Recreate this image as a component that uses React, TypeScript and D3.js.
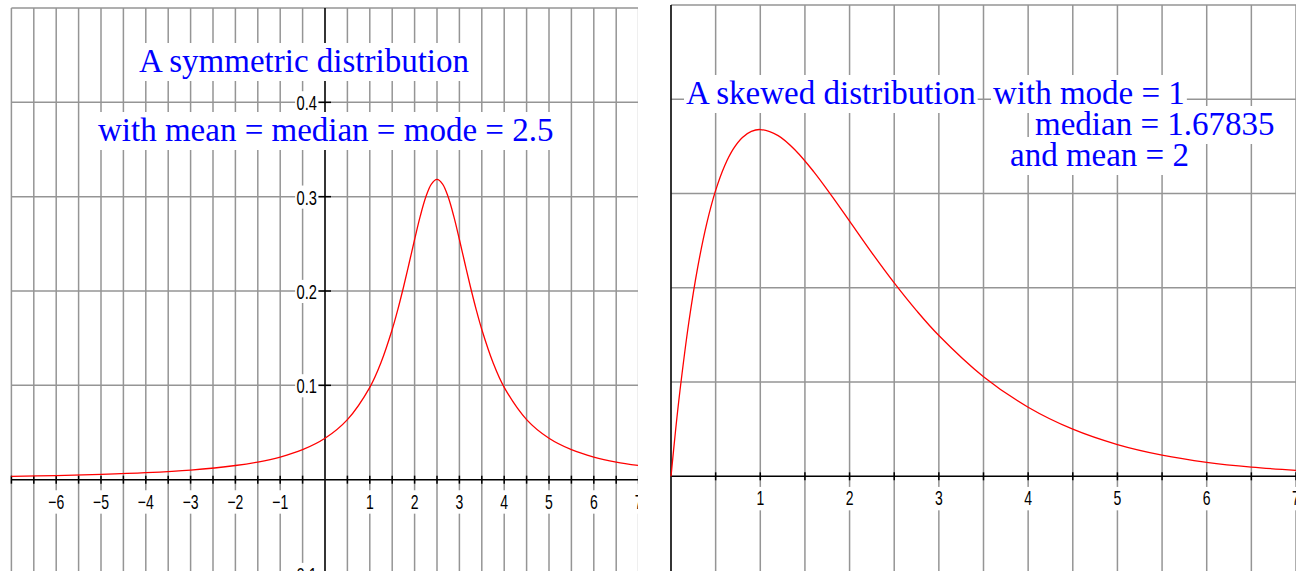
import React, { useEffect, useRef } from 'react';
import * as d3 from 'd3';

// Symmetric distribution
const symX = [-7, -6, -5, -4, -3, -2, -1.5, -1, -0.5, 0, 0.5, 1, 1.25, 1.5, 1.625, 1.75, 1.875, 2, 2.125, 2.25, 2.375, 2.5, 2.625, 2.75, 2.875, 3, 3.125, 3.25, 3.375, 3.5, 3.75, 4, 4.5, 5, 5.5, 6, 6.5, 7];
const symY = [0.0035, 0.0043, 0.0056, 0.0074, 0.0102, 0.015, 0.0187, 0.024, 0.0318, 0.0439, 0.0637, 0.0979, 0.1242, 0.1592, 0.1803, 0.2037, 0.2289, 0.2546, 0.2791, 0.2996, 0.3134, 0.3183, 0.3134, 0.2996, 0.2791, 0.2546, 0.2289, 0.2037, 0.1803, 0.1592, 0.1242, 0.0979, 0.0637, 0.0439, 0.0318, 0.024, 0.0187, 0.015];

// Skewed distribution
const skewX = [0, 0.05, 0.1, 0.2, 0.3, 0.4, 0.5, 0.6, 0.7, 0.8, 0.9, 1, 1.2, 1.4, 1.6, 1.8, 2, 2.25, 2.5, 2.75, 3, 3.5, 4, 4.5, 5, 5.5, 6, 6.5, 7];
const skewY = [0, 0.0476, 0.0905, 0.1637, 0.2222, 0.2681, 0.3033, 0.3293, 0.3476, 0.3595, 0.3659, 0.3679, 0.3614, 0.3452, 0.323, 0.2975, 0.2707, 0.2371, 0.2052, 0.1758, 0.1494, 0.1057, 0.0733, 0.05, 0.0337, 0.0225, 0.0149, 0.0098, 0.0064];

const leftXTicks = [-6, -5, -4, -3, -2, -1, 1, 2, 3, 4, 5, 6, 7];
const leftYTicks = [-0.1, 0.1, 0.2, 0.3, 0.4];
const rightXTicks = [1, 2, 3, 4, 5, 6, 7];
const gridYValues = [0.1, 0.2, 0.3, 0.4, 0.5];

const leftTitles = ['A symmetric distribution', 'with mean = median = mode = 2.5'];
const rightTitles = ['A skewed distribution', 'with mode = 1', 'median = 1.67835', 'and mean = 2'];

const GRID = '#959595';
const TICKFONT = '"Liberation Sans", Arial, sans-serif';
const TITLEFONT = '"Liberation Serif", "Times New Roman", serif';

function fmt(v: number) {
  const s = String(v);
  return s.replace('-', '\u2212');
}

export default function App() {
  const ref = useRef<SVGSVGElement>(null);

  useEffect(() => {
    const svg = d3.select(ref.current);
    svg.selectAll('*').remove();
    svg.append('rect').attr('width', 1301).attr('height', 571).attr('fill', '#fff');
    const defs = svg.append('defs');

    function labelBox(g: any, text: string, anchor: string, size: number, padX: number, padTop: number, padBot: number) {
      const rect = g.append('rect').attr('fill', '#fff');
      const t = g.append('text')
        .attr('font-family', TICKFONT)
        .attr('font-size', size)
        .attr('text-anchor', anchor)
        .attr('fill', '#000')
        .text(text);
      const bb = (t.node() as SVGTextElement).getBBox();
      rect.attr('x', bb.x - padX).attr('y', -size * 0.72 - padTop)
        .attr('width', bb.width + padX * 2).attr('height', size * 0.72 + padTop + padBot);
    }

    function titleBox(g: any, text: string, x: number, y: number) {
      const rect = g.append('rect').attr('fill', '#fff');
      const t = g.append('text')
        .attr('x', x).attr('y', y)
        .attr('font-family', TITLEFONT)
        .attr('font-size', 33)
        .attr('fill', '#0000ff')
        .text(text);
      const bb = (t.node() as SVGTextElement).getBBox();
      rect.attr('x', bb.x - 2).attr('y', y - 29).attr('width', bb.width + 4).attr('height', 38);
    }

    function panel(opts: any) {
      const { id, x, y, clipX0, clipX1, clipY0, xGrid, xTicks, yTicks, titles, titlePos, yTop } = opts;
      defs.append('clipPath').attr('id', id).append('rect')
        .attr('x', clipX0).attr('y', clipY0).attr('width', clipX1 - clipX0).attr('height', 571 - clipY0);
      const g = svg.append('g').attr('clip-path', `url(#${id})`);
      const [xr0, xr1] = x.range();
      const x0 = x(0);
      const y0 = y(0);

      // grid
      g.append('g').selectAll('line').data(xGrid).join('line')
        .attr('x1', (d: number) => x(d)).attr('x2', (d: number) => x(d))
        .attr('y1', yTop).attr('y2', 580)
        .attr('stroke', GRID).attr('stroke-width', 1.5);
      g.append('g').selectAll('line').data(gridYValues).join('line')
        .attr('x1', xr0).attr('x2', xr1)
        .attr('y1', (d: number) => y(d)).attr('y2', (d: number) => y(d))
        .attr('stroke', GRID).attr('stroke-width', 1.5);

      // axes
      g.append('line').attr('x1', xr0).attr('x2', xr1).attr('y1', y0).attr('y2', y0)
        .attr('stroke', '#000').attr('stroke-width', 1.5);
      g.append('line').attr('x1', x0).attr('x2', x0).attr('y1', yTop).attr('y2', 580)
        .attr('stroke', '#111').attr('stroke-width', 1.7);
      // x ticks every 0.5
      g.append('g').selectAll('line').data(xGrid).join('line')
        .attr('x1', (d: number) => x(d)).attr('x2', (d: number) => x(d))
        .attr('y1', y0 - 4).attr('y2', y0 + 4)
        .attr('stroke', '#000').attr('stroke-width', 1.5);
      // y ticks
      g.append('g').selectAll('line').data(yTicks).join('line')
        .attr('x1', x0 - 7).attr('x2', x0 + 6)
        .attr('y1', (d: number) => y(d)).attr('y2', (d: number) => y(d))
        .attr('stroke', '#000').attr('stroke-width', 1.5);

      // curve
      const line = d3.line<[number, number]>()
        .x((d) => x(d[0])).y((d) => y(d[1]))
        .curve(d3.curveCatmullRom.alpha(0.5));
      g.append('path').datum(opts.data).attr('d', line)
        .attr('fill', 'none').attr('stroke', '#ff0000').attr('stroke-width', 1.3);

      // x tick labels
      xTicks.forEach((v: number) => {
        const lg = g.append('g').attr('transform', `translate(${x(v)},${y0 + 29}) scale(0.7,1)`);
        labelBox(lg, fmt(v), 'middle', 20, 2, 4, 5);
      });
      // y tick labels
      yTicks.forEach((v: number) => {
        const lg = g.append('g').attr('transform', `translate(${x0 - 8},${y(v) + 8}) scale(0.7,1)`);
        labelBox(lg, fmt(v), 'end', 21, 2, 4, 4);
      });

      // titles
      titles.forEach((t: string, i: number) => {
        titleBox(svg, t, titlePos[i][0], titlePos[i][1]);
      });
    }

    const xL = d3.scaleLinear().domain([-7, 7]).range([11.4, 638.6]);
    const yL = d3.scaleLinear().domain([-0.1, 0.5]).range([574, 8]);
    panel({
      id: 'clipL', x: xL, y: yL, clipX0: 10, clipX1: 638, clipY0: 7, yTop: yL(0.5),
      xGrid: d3.range(-14, 15).map((i) => i / 2).filter((d) => d !== 0),
      xTicks: leftXTicks, yTicks: leftYTicks,
      data: symX.map((v, i) => [v, symY[i]]),
      titles: leftTitles, titlePos: [[139, 72], [98, 141]],
    });

    const xR = d3.scaleLinear().domain([0, 7]).range([671, 1296]);
    const yR = d3.scaleLinear().domain([-0.1, 0.5]).range([570.6, 5]);
    panel({
      id: 'clipR', x: xR, y: yR, clipX0: 670, clipX1: 1296, clipY0: 4, yTop: yR(0.5),
      xGrid: d3.range(1, 15).map((i) => i / 2),
      xTicks: rightXTicks, yTicks: [],
      data: skewX.map((v, i) => [v, skewY[i]]),
      titles: rightTitles, titlePos: [[686, 104], [993, 104], [1035, 135], [1010, 166]],
    });
  }, []);

  return (
    <svg ref={ref} width={1301} height={571} style={{ position: 'absolute', left: 0, top: 0, display: 'block' }} />
  );
}
